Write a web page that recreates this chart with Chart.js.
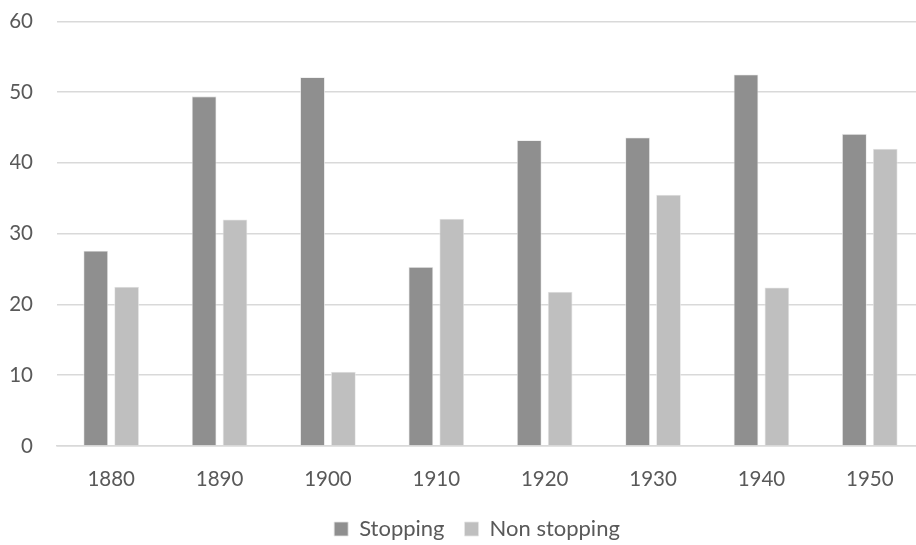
<!DOCTYPE html>
<html>
<head>
<meta charset="utf-8">
<script src="https://cdn.jsdelivr.net/npm/chart.js@4/dist/chart.umd.min.js"></script>
<style>
  html, body { margin: 0; padding: 0; background: #fff; overflow: hidden; }
  #wrap { position: absolute; left: 0; top: -15px; width: 954px; height: 565px; }
</style>
</head>
<body>
<div id="wrap"><canvas id="c"></canvas></div>
<script>
const categories = ["1880", "1890", "1900", "1910", "1920", "1930", "1940", "1950"];
const stopping = [27.6, 49.4, 52.1, 25.3, 43.2, 43.6, 52.5, 44.1];
const nonStopping = [22.5, 32.0, 10.5, 32.1, 21.8, 35.5, 22.4, 42.0];
const yTicks = [0, 10, 20, 30, 40, 50, 60];

const font = "Lato, 'Open Sans', sans-serif";
const shiftLegend = {
  id: 'shiftLegend',
  afterLayout(chart) {
    if (chart.legend) { chart.legend.left += 10; chart.legend.right += 10; }
  }
};
new Chart(document.getElementById('c'), {
  type: 'bar',
  data: {
    labels: categories,
    datasets: [
      { label: 'Stopping', data: stopping, backgroundColor: '#8f8f8f', borderColor: '#e6e6e6', borderWidth: 0.8 },
      { label: 'Non stopping', data: nonStopping, backgroundColor: '#bfbfbf', borderColor: '#e6e6e6', borderWidth: 0.8 }
    ]
  },
  plugins: [shiftLegend],
  options: {
    responsive: true,
    maintainAspectRatio: false,
    animation: false,
    devicePixelRatio: 1,
    layout: { padding: { top: 0, right: 30, left: 10, bottom: 0 } },
    datasets: { bar: { categoryPercentage: 0.57, barPercentage: 0.8 } },
    plugins: {
      tooltip: { enabled: false },
      legend: {
        position: 'bottom',
        labels: {
          font: { family: font, size: 22 },
          color: '#595959',
          boxWidth: 14,
          boxHeight: 14,
          padding: 20
        }
      }
    },
    scales: {
      x: {
        afterFit: (axis) => { axis.height = 52; },
        grid: { display: false, drawTicks: false },
        border: { color: '#d9d9d9', width: 1.5 },
        ticks: { font: { family: font, size: 20.5 }, color: '#595959', padding: 21 }
      },
      y: {
        min: 0, max: 60,
        afterFit: (axis) => { axis.width = 47; },
        afterBuildTicks: (axis) => { axis.ticks = yTicks.map(v => ({ value: v })); },
        grid: { color: '#d9d9d9', lineWidth: 1.5, drawTicks: false },
        border: { display: false },
        ticks: { font: { family: font, size: 20.5 }, color: '#595959', padding: 24 }
      }
    }
  }
});
</script>
</body>
</html>
